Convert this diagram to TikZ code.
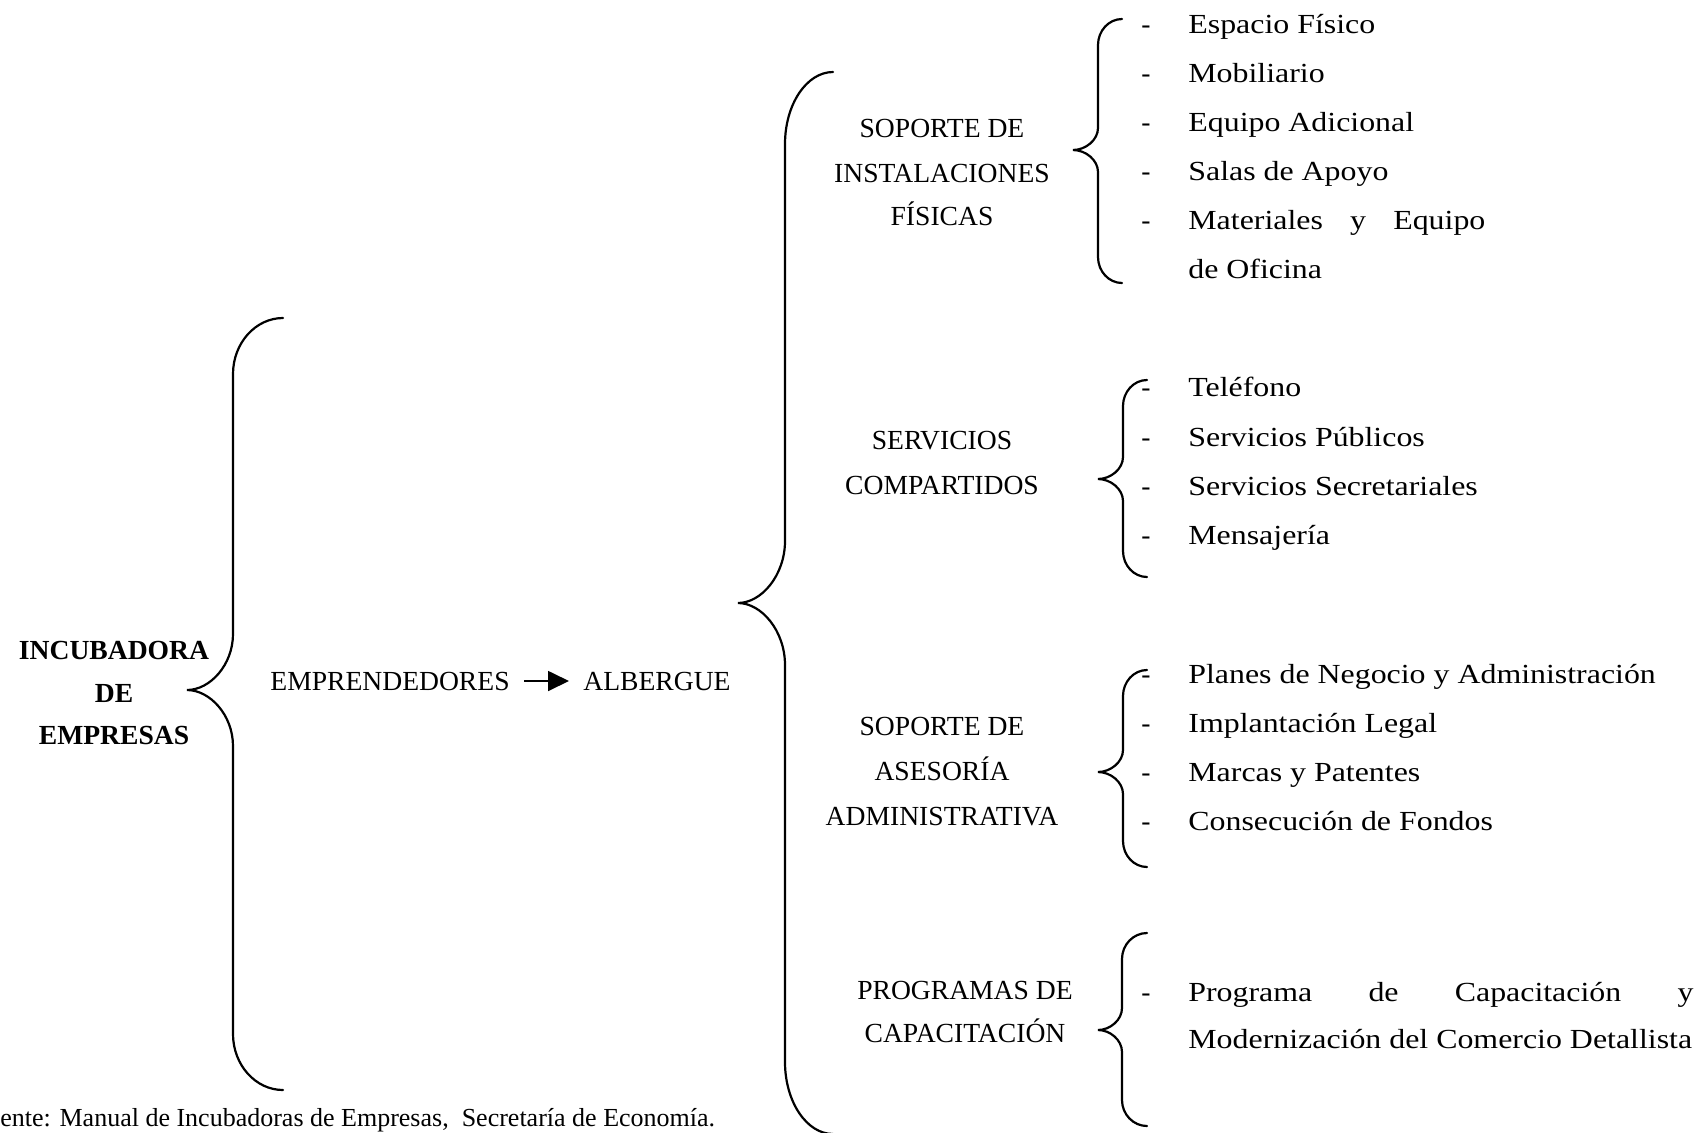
\documentclass[tikz,border=0pt]{standalone}
\usepackage{fontspec}
\setmainfont{Liberation Serif}
\newfontfamily\itemfont[FakeStretch=1.155]{Liberation Serif}
\usetikzlibrary{arrows.meta}
\newcommand\mybrace[8]{%
  \draw[brc] (#1,#4) .. controls ({#2+0.45*(#1-#2)},#4) and (#2,{#4+0.45*#7}) .. (#2,{#4+#7})
    -- (#2,{#5-#8}) .. controls (#2,{#5-0.45*#8}) and ({#3+0.5*(#2-#3)},#5) .. (#3,#5)
    .. controls ({#3+0.5*(#2-#3)},#5) and (#2,{#5+0.45*#8}) .. (#2,{#5+#8})
    -- (#2,{#6-#7}) .. controls (#2,{#6-0.45*#7}) and ({#2+0.45*(#1-#2)},#6) .. (#1,#6);}
\begin{document}
\begin{tikzpicture}[x=0.5pt,y=-0.5pt,
  lab/.style={inner sep=0pt, anchor=base, font=\fontsize{13.8pt}{16pt}\selectfont},
  blab/.style={inner sep=0pt, anchor=base, font=\fontsize{13.8pt}{16pt}\selectfont\bfseries},
  itm/.style={inner sep=0pt, anchor=base west, font=\itemfont\fontsize{13.8pt}{16pt}\selectfont},
  dsh/.style={inner sep=0pt, anchor=base, font=\fontsize{13.8pt}{16pt}\selectfont},
  brc/.style={line width=1.1pt, line cap=round},
  arr/.style={line width=0.9pt, -{Triangle[length=10.5pt,width=10pt]}, shorten <=7pt, shorten >=7pt}]
\useasboundingbox (0,0) rectangle (1705,1132);
\fill[white] (0,0) rectangle (1705,1132);

% left part
\node[blab] (inc1) at (114,659) {INCUBADORA};
\node[blab] (inc2) at (114,702) {DE};
\node[blab] (inc3) at (114,744) {EMPRESAS};
\mybrace{283}{233}{187}{318}{690}{1090}{56}{56}

\node[lab, anchor=base west] (emp) at (270,690) {EMPRENDEDORES};
\node[lab, anchor=base west] (alb) at (583,690) {ALBERGUE};
\draw[arr] (emp.east) -- (alb.west);

\mybrace{833}{785}{738}{72}{603}{1134}{72}{62}

% middle labels
\node[lab] (s1a) at (942,137) {SOPORTE DE};
\node[lab] (s1b) at (942,182) {INSTALACIONES};
\node[lab] (s1c) at (942,225) {FÍSICAS};
\node[lab] (s2a) at (942,449) {SERVICIOS};
\node[lab] (s2b) at (942,494) {COMPARTIDOS};
\node[lab] (s3a) at (942,735) {SOPORTE DE};
\node[lab] (s3b) at (942,780) {ASESORÍA};
\node[lab] (s3c) at (942,825) {ADMINISTRATIVA};
\node[lab] (s4a) at (965,999) {PROGRAMAS DE};
\node[lab] (s4b) at (965,1042) {CAPACITACIÓN};

% small braces
\mybrace{1122}{1098}{1073}{19}{150}{283}{26}{22}
\mybrace{1147}{1123}{1098}{380}{479}{577}{26}{22}
\mybrace{1147}{1123}{1098}{670}{772}{867}{26}{22}
\mybrace{1147}{1122}{1098}{933}{1030}{1126}{26}{22}

% group 1
\node[dsh] (d11) at (1146,33) {-};
\node[itm] (i11) at (1188,33) {Espacio Físico};
\node[dsh] (d12) at (1146,82) {-};
\node[itm] (i12) at (1188,82) {Mobiliario};
\node[dsh] (d13) at (1146,131) {-};
\node[itm] (i13) at (1188,131) {Equipo Adicional};
\node[dsh] (d14) at (1146,180) {-};
\node[itm] (i14) at (1188,180) {Salas de Apoyo};
\node[dsh] (d15) at (1146,229) {-};
\node[itm] (i15) at (1188,229) {\makebox[148.5pt][s]{Materiales\hfill y\hfill Equipo}};
\node[itm] (i16) at (1188,278) {de Oficina};

% group 2
\node[dsh] (d21) at (1146,396) {-};
\node[itm] (i21) at (1188,396) {Teléfono};
\node[dsh] (d22) at (1146,446) {-};
\node[itm] (i22) at (1188,446) {Servicios Públicos};
\node[dsh] (d23) at (1146,495) {-};
\node[itm] (i23) at (1188,495) {Servicios Secretariales};
\node[dsh] (d24) at (1146,544) {-};
\node[itm] (i24) at (1188,544) {Mensajería};

% group 3
\node[dsh] (d31) at (1146,683) {-};
\node[itm] (i31) at (1188,683) {Planes de Negocio y Administración};
\node[dsh] (d32) at (1146,732) {-};
\node[itm] (i32) at (1188,732) {Implantación Legal};
\node[dsh] (d33) at (1146,781) {-};
\node[itm] (i33) at (1188,781) {Marcas y Patentes};
\node[dsh] (d34) at (1146,830) {-};
\node[itm] (i34) at (1188,830) {Consecución de Fondos};

% group 4
\node[dsh] (d41) at (1146,1001) {-};
\node[itm] (i41) at (1188,1001) {\makebox[252.5pt][s]{Programa\hfill de\hfill Capacitación\hfill y}};
\node[itm] (i42) at (1188,1048) {Modernización del Comercio Detallista};

% source
\node[inner sep=0pt, anchor=base west, font=\fontsize{13pt}{15pt}\selectfont] (src) at (0,1126)
  {ente: Manual de Incubadoras de Empresas,\ \ Secretaría de Economía.};
\end{tikzpicture}
\end{document}
